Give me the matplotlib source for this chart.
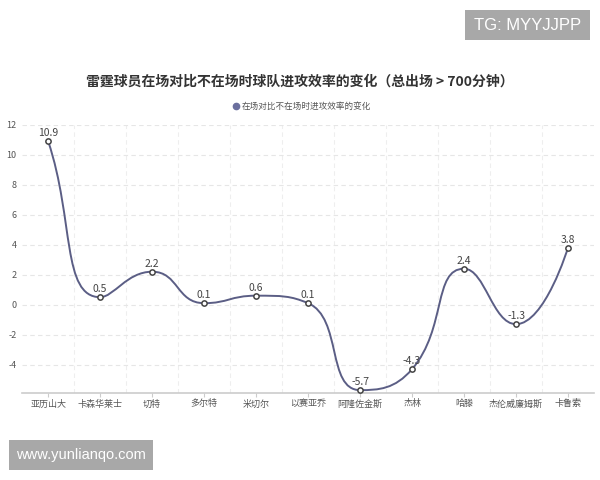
import numpy as np
import matplotlib
matplotlib.use("Agg")
import matplotlib.pyplot as plt
from matplotlib.path import Path
from matplotlib.patches import PathPatch, Rectangle

plt.rcParams['font.family'] = ['Noto Sans CJK SC', 'DejaVu Sans']

# data
players = ["亚历山大", "卡森华莱士", "切特", "多尔特", "米切尔", "以赛亚乔",
           "阿隆佐金斯", "杰林", "哈滕", "杰伦威廉姆斯", "卡鲁索"]
values = [10.9, 0.5, 2.2, 0.1, 0.6, 0.1, -5.7, -4.3, 2.4, -1.3, 3.8]
y_ticks = [-4, -2, 0, 2, 4, 6, 8, 10, 12]

line_color = "#5b5e85"

fig = plt.figure(figsize=(6, 4.8), dpi=100)
ax = fig.add_axes([0.037, 0.181, 0.953, 0.559])

x = np.arange(len(values))
y = np.array(values, dtype=float)


def clamp(v, a, b):
    return min(max(v, min(a, b)), max(a, b))


def smooth_path(xs, ys, sx=52.0, sy=15.0, smooth=0.5):
    # echarts-style bezier smoothing, computed in pixel-like units
    px_ = np.asarray(xs, float) * sx
    py_ = np.asarray(ys, float) * sy
    n = len(px_)
    cin = [None] * n
    cout = [None] * n
    for i in range(n):
        cx, cy = px_[i], py_[i]
        if i == 0:
            nx, ny = px_[1], py_[1]
            cout[i] = (cx + (nx - cx) * smooth, cy + (ny - cy) * smooth)
            cout[i] = (clamp(cout[i][0], cx, nx), clamp(cout[i][1], cy, ny))
            cin[i] = (cx, cy)
            continue
        if i == n - 1:
            cin[i] = (cx, cy)
            cout[i] = (cx, cy)
            continue
        pxp, pyp = px_[i - 1], py_[i - 1]
        nx, ny = px_[i + 1], py_[i + 1]
        vx, vy = nx - pxp, ny - pyp
        l0 = np.hypot(cx - pxp, cy - pyp)
        l1 = np.hypot(nx - cx, ny - cy)
        r = l1 / (l0 + l1)
        ncx = clamp(cx + vx * smooth * r, nx, cx)
        ncy = clamp(cy + vy * smooth * r, ny, cy)
        vx, vy = ncx - cx, ncy - cy
        c1x = clamp(cx - vx * l0 / l1, pxp, cx)
        c1y = clamp(cy - vy * l0 / l1, pyp, cy)
        vx, vy = cx - c1x, cy - c1y
        ncx = cx + vx * l1 / l0
        ncy = cy + vy * l1 / l0
        cin[i] = (c1x, c1y)
        cout[i] = (ncx, ncy)
    verts = [(px_[0], py_[0])]
    codes = [Path.MOVETO]
    for i in range(n - 1):
        verts += [cout[i], cin[i + 1], (px_[i + 1], py_[i + 1])]
        codes += [Path.CURVE4] * 3
    verts = [(vx_ / sx, vy_ / sy) for vx_, vy_ in verts]
    return Path(verts, codes)


ax.add_patch(PathPatch(smooth_path(x, y), facecolor="none",
                       edgecolor=line_color, lw=1.4, zorder=3))
ax.plot(x, y, ls="none", marker="o", ms=3.8, mfc="white",
        mec="#444444", mew=1.1, zorder=4)

for xi, yi in zip(x, y):
    ax.text(xi, yi + 0.2, f"{yi:g}", ha="center", va="bottom",
            fontsize=7.5, color="#444444", zorder=5)

ax.set_xlim(-0.5, len(values) - 0.5)
ax.set_ylim(-5.9, 12)
ax.set_yticks(y_ticks)
ax.set_yticklabels([str(t) for t in y_ticks], fontsize=6.5, color="#555555")
ax.set_xticks(x)
ax.set_xticklabels(players, fontsize=6.5, color="#555555")
ax.tick_params(axis="y", length=0, pad=4)
ax.tick_params(axis="x", length=3, color="#cccccc", pad=1.5)

ax.set_xticks(np.arange(0.5, len(values) - 0.5, 1), minor=True)
ax.tick_params(axis="x", which="minor", length=0)
ax.grid(axis="x", which="minor", color="#eeeeee", lw=0.8, ls=(0, (4, 3)))
ax.grid(axis="y", which="major", color="#e6e6e6", lw=0.8, ls=(0, (4, 3)))
ax.set_axisbelow(True)

for s in ["top", "right", "left"]:
    ax.spines[s].set_visible(False)
ax.spines["bottom"].set_color("#cccccc")
ax.spines["bottom"].set_linewidth(1.2)

fig.text(0.5, 0.829, "雷霆球员在场对比不在场时球队进攻效率的变化（总出场 > 700分钟）",
         ha="center", va="center", fontsize=10, fontweight="bold", color="#333333")

fig.lines.append(plt.Line2D([0.393], [0.779], marker="o", ms=4.5, color="#6b6f9e",
                            transform=fig.transFigure, figure=fig))
fig.text(0.403, 0.779, "在场对比不在场时进攻效率的变化", ha="left", va="center",
         fontsize=6.2, color="#555555")

# watermark boxes
fig.patches.append(Rectangle((465 / 600, 1 - 40 / 480), 125 / 600, 30 / 480,
                             transform=fig.transFigure, fc="#a8a8a8", ec="none"))
fig.text(527.5 / 600, 1 - 25 / 480, "TG: MYYJJPP", ha="center", va="center",
         fontsize=12, color="white", family="Liberation Sans")
fig.patches.append(Rectangle((9 / 600, 1 - 470 / 480), 144 / 600, 30 / 480,
                             transform=fig.transFigure, fc="#a8a8a8", ec="none"))
fig.text(81 / 600, 1 - 455 / 480, "www.yunlianqo.com", ha="center", va="center",
         fontsize=10.5, color="white", family="Liberation Sans")

fig.savefig("out.png", dpi=100, facecolor="white")
